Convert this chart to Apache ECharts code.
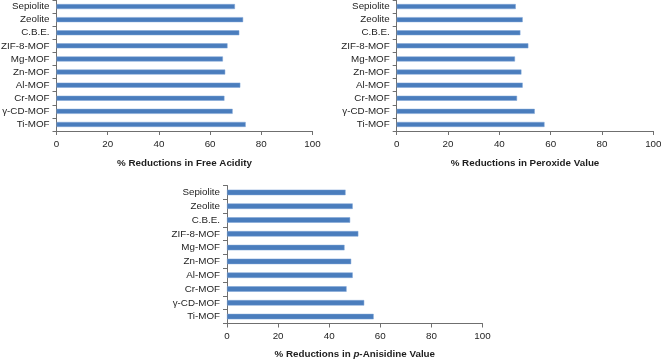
<!DOCTYPE html>
<html><head><meta charset="utf-8">
<script src="https://cdn.jsdelivr.net/npm/echarts@6/dist/echarts.min.js"></script>
<style>html,body{margin:0;padding:0;background:#fff}#c{width:661px;height:360px}</style>
</head><body><div id="c"></div>
<script>
const categories = ['Sepiolite','Zeolite','C.B.E.','ZIF-8-MOF','Mg-MOF','Zn-MOF','Al-MOF','Cr-MOF','γ-CD-MOF','Ti-MOF'];
const freeAcidity = [69.7, 72.9, 71.4, 66.8, 65.0, 65.9, 71.8, 65.6, 68.8, 73.9];
const peroxideValue = [46.4, 49.1, 48.2, 51.3, 46.1, 48.6, 49.1, 46.9, 53.8, 57.6];
const anisidineValue = [46.4, 49.2, 48.2, 51.4, 46.0, 48.6, 49.2, 46.8, 53.7, 57.4];
const xTicks = {min: 0, max: 100, interval: 20};
const titles = ['% Reductions in Free Acidity', '% Reductions in Peroxide Value', '% Reductions in {i|p}-Anisidine Value'];

const font = 'Liberation Sans, Arial, sans-serif';
const fs = 9.8;
const txt = '#1e1e1e';
const axisCol = '#6f6f6f';
const grids = [
  {left: 56.5, top: 0, width: 256, height: 131},
  {left: 396.7, top: 0, width: 256.6, height: 131},
  {left: 227, top: 185.5, width: 255.5, height: 138}
];
const seriesData = [freeAcidity, peroxideValue, anisidineValue];
const option = {
  animation: false,
  textStyle: {fontFamily: font},
  grid: grids.map(g => Object.assign({containLabel: false, outerBoundsMode: 'none'}, g)),
  xAxis: grids.map((g, i) => ({
    gridIndex: i, type: 'value', min: xTicks.min, max: xTicks.max, interval: xTicks.interval,
    splitLine: {show: false},
    axisLine: {show: true, lineStyle: {color: axisCol, width: 1}},
    axisTick: {show: true, length: 4, lineStyle: {color: axisCol}},
    axisLabel: {margin: 8, fontSize: fs, color: txt, fontFamily: font},
    name: titles[i], nameLocation: 'middle', nameGap: i === 2 ? 26 : 27,
    nameTextStyle: {fontSize: fs, fontWeight: 'bold', color: txt, fontFamily: font,
      rich: {i: {fontStyle: 'italic', fontWeight: 'bold', fontSize: fs, color: txt, fontFamily: font}}}
  })),
  yAxis: grids.map((g, i) => ({
    gridIndex: i, type: 'category', data: categories, inverse: true,
    axisLine: {show: true, lineStyle: {color: axisCol, width: 1}},
    axisTick: {show: true, length: 4, lineStyle: {color: axisCol}},
    axisLabel: {margin: 7, fontSize: fs, color: txt, fontFamily: font, interval: 0}
  })),
  series: seriesData.map((d, i) => ({
    type: 'bar', xAxisIndex: i, yAxisIndex: i, data: d,
    barWidth: i === 2 ? 5.5 : 5,
    itemStyle: {color: '#4a7dbd', borderColor: '#7ea4d6', borderWidth: 0.5}
  }))
};
echarts.init(document.getElementById('c'), null, {renderer: 'canvas'}).setOption(option);
</script></body></html>
